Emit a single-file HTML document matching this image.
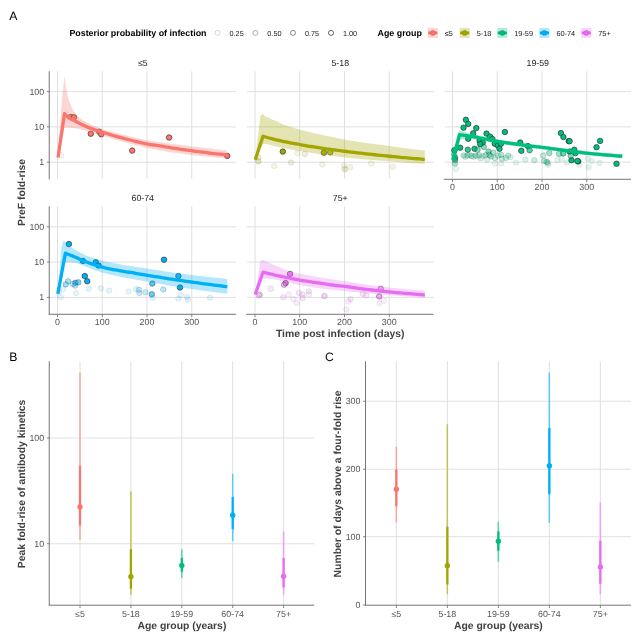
<!DOCTYPE html>
<html><head><meta charset="utf-8"><title>Figure</title>
<style>
html,body{margin:0;padding:0;background:#fff;}
body{width:640px;height:640px;overflow:hidden;font-family:"Liberation Sans",sans-serif;}
svg{display:block;font-family:"Liberation Sans",sans-serif;will-change:transform;text-rendering:geometricPrecision;filter:blur(0.35px);}
</style></head><body>
<svg width="640" height="640" viewBox="0 0 640 640">
<rect x="0" y="0" width="640" height="640" fill="#ffffff"/>
<line x1="57.50" x2="57.50" y1="71.25" y2="178.9" stroke="#dddddd" stroke-width="0.9"/>
<line x1="102.25" x2="102.25" y1="71.25" y2="178.9" stroke="#dddddd" stroke-width="0.9"/>
<line x1="147.00" x2="147.00" y1="71.25" y2="178.9" stroke="#dddddd" stroke-width="0.9"/>
<line x1="191.75" x2="191.75" y1="71.25" y2="178.9" stroke="#dddddd" stroke-width="0.9"/>
<line x1="49.5" x2="236.0" y1="162.20" y2="162.20" stroke="#dddddd" stroke-width="0.9"/>
<line x1="49.5" x2="236.0" y1="126.90" y2="126.90" stroke="#dddddd" stroke-width="0.9"/>
<line x1="49.5" x2="236.0" y1="91.60" y2="91.60" stroke="#dddddd" stroke-width="0.9"/>
<text x="142.75" y="65.95" font-size="8.8" fill="#262626" text-anchor="middle">≤5</text>
<line x1="255.00" x2="255.00" y1="71.25" y2="178.9" stroke="#dddddd" stroke-width="0.9"/>
<line x1="299.75" x2="299.75" y1="71.25" y2="178.9" stroke="#dddddd" stroke-width="0.9"/>
<line x1="344.50" x2="344.50" y1="71.25" y2="178.9" stroke="#dddddd" stroke-width="0.9"/>
<line x1="389.25" x2="389.25" y1="71.25" y2="178.9" stroke="#dddddd" stroke-width="0.9"/>
<line x1="247.0" x2="433.5" y1="162.20" y2="162.20" stroke="#dddddd" stroke-width="0.9"/>
<line x1="247.0" x2="433.5" y1="126.90" y2="126.90" stroke="#dddddd" stroke-width="0.9"/>
<line x1="247.0" x2="433.5" y1="91.60" y2="91.60" stroke="#dddddd" stroke-width="0.9"/>
<text x="340.25" y="65.95" font-size="8.8" fill="#262626" text-anchor="middle">5-18</text>
<line x1="452.50" x2="452.50" y1="71.25" y2="178.9" stroke="#dddddd" stroke-width="0.9"/>
<line x1="497.25" x2="497.25" y1="71.25" y2="178.9" stroke="#dddddd" stroke-width="0.9"/>
<line x1="542.00" x2="542.00" y1="71.25" y2="178.9" stroke="#dddddd" stroke-width="0.9"/>
<line x1="586.75" x2="586.75" y1="71.25" y2="178.9" stroke="#dddddd" stroke-width="0.9"/>
<line x1="444.5" x2="631.0" y1="162.20" y2="162.20" stroke="#dddddd" stroke-width="0.9"/>
<line x1="444.5" x2="631.0" y1="126.90" y2="126.90" stroke="#dddddd" stroke-width="0.9"/>
<line x1="444.5" x2="631.0" y1="91.60" y2="91.60" stroke="#dddddd" stroke-width="0.9"/>
<text x="537.75" y="65.95" font-size="8.8" fill="#262626" text-anchor="middle">19-59</text>
<line x1="57.50" x2="57.50" y1="206.25" y2="313.9" stroke="#dddddd" stroke-width="0.9"/>
<line x1="102.25" x2="102.25" y1="206.25" y2="313.9" stroke="#dddddd" stroke-width="0.9"/>
<line x1="147.00" x2="147.00" y1="206.25" y2="313.9" stroke="#dddddd" stroke-width="0.9"/>
<line x1="191.75" x2="191.75" y1="206.25" y2="313.9" stroke="#dddddd" stroke-width="0.9"/>
<line x1="49.5" x2="236.0" y1="297.40" y2="297.40" stroke="#dddddd" stroke-width="0.9"/>
<line x1="49.5" x2="236.0" y1="262.10" y2="262.10" stroke="#dddddd" stroke-width="0.9"/>
<line x1="49.5" x2="236.0" y1="226.80" y2="226.80" stroke="#dddddd" stroke-width="0.9"/>
<text x="142.75" y="200.95" font-size="8.8" fill="#262626" text-anchor="middle">60-74</text>
<line x1="255.00" x2="255.00" y1="206.25" y2="313.9" stroke="#dddddd" stroke-width="0.9"/>
<line x1="299.75" x2="299.75" y1="206.25" y2="313.9" stroke="#dddddd" stroke-width="0.9"/>
<line x1="344.50" x2="344.50" y1="206.25" y2="313.9" stroke="#dddddd" stroke-width="0.9"/>
<line x1="389.25" x2="389.25" y1="206.25" y2="313.9" stroke="#dddddd" stroke-width="0.9"/>
<line x1="247.0" x2="433.5" y1="297.40" y2="297.40" stroke="#dddddd" stroke-width="0.9"/>
<line x1="247.0" x2="433.5" y1="262.10" y2="262.10" stroke="#dddddd" stroke-width="0.9"/>
<line x1="247.0" x2="433.5" y1="226.80" y2="226.80" stroke="#dddddd" stroke-width="0.9"/>
<text x="340.25" y="200.95" font-size="8.8" fill="#262626" text-anchor="middle">75+</text>
<circle cx="70.75" cy="117.00" r="2.75" fill="#F8766D" fill-opacity="1.00" stroke="#222" stroke-opacity="1.00" stroke-width="0.6"/>
<circle cx="74.00" cy="117.25" r="2.75" fill="#F8766D" fill-opacity="1.00" stroke="#222" stroke-opacity="1.00" stroke-width="0.6"/>
<circle cx="90.75" cy="133.75" r="2.75" fill="#F8766D" fill-opacity="1.00" stroke="#222" stroke-opacity="1.00" stroke-width="0.6"/>
<circle cx="99.25" cy="131.75" r="2.75" fill="#F8766D" fill-opacity="1.00" stroke="#222" stroke-opacity="1.00" stroke-width="0.6"/>
<circle cx="101.25" cy="134.25" r="2.75" fill="#F8766D" fill-opacity="1.00" stroke="#222" stroke-opacity="1.00" stroke-width="0.6"/>
<circle cx="132.20" cy="150.60" r="2.75" fill="#F8766D" fill-opacity="1.00" stroke="#222" stroke-opacity="1.00" stroke-width="0.6"/>
<circle cx="169.10" cy="137.50" r="2.75" fill="#F8766D" fill-opacity="1.00" stroke="#222" stroke-opacity="1.00" stroke-width="0.6"/>
<circle cx="227.25" cy="155.90" r="2.75" fill="#F8766D" fill-opacity="1.00" stroke="#222" stroke-opacity="1.00" stroke-width="0.6"/>
<circle cx="61.00" cy="155.00" r="2.75" fill="#F8766D" fill-opacity="0.12" stroke="#222" stroke-opacity="0.12" stroke-width="0.6"/>
<path d="M58.00 156.50 L60.50 118.00 L62.50 95.00 L64.50 75.80 L66.00 88.00 L68.40 99.00 L72.30 108.60 L76.25 114.90 L84.00 121.00 L91.90 125.00 L102.80 129.20 L120.00 134.00 L147.00 140.20 L170.00 143.60 L191.40 146.20 L210.00 148.60 L227.00 150.60 L227.00 158.60 L210.00 157.00 L191.40 155.00 L170.00 152.20 L147.00 148.00 L120.00 141.00 L102.80 135.80 L92.00 132.80 L84.00 130.20 L76.00 128.20 L70.00 127.80 L64.50 127.40 L61.00 140.00 L58.00 158.50 Z" fill="#F8766D" fill-opacity="0.3"/>
<path d="M58.00 157.50 L64.50 113.75 L64.88 114.10 L65.39 114.59 L65.99 115.17 L66.66 115.80 L67.37 116.46 L68.10 117.10 L68.82 117.69 L69.50 118.20 L70.14 118.62 L70.76 118.97 L71.37 119.29 L72.00 119.59 L72.66 119.89 L73.37 120.21 L74.14 120.58 L75.00 121.00 L75.96 121.50 L77.03 122.06 L78.16 122.65 L79.34 123.28 L80.54 123.90 L81.74 124.51 L82.90 125.08 L84.00 125.60 L85.03 126.07 L86.02 126.50 L86.99 126.90 L87.94 127.29 L88.90 127.66 L89.88 128.03 L90.91 128.41 L92.00 128.80 L93.13 129.19 L94.27 129.57 L95.43 129.95 L96.62 130.33 L97.87 130.72 L99.17 131.12 L100.54 131.55 L102.00 132.00 L103.54 132.49 L105.17 133.00 L106.87 133.54 L108.62 134.09 L110.43 134.65 L112.27 135.21 L114.13 135.76 L116.00 136.30 L117.91 136.83 L119.88 137.37 L121.90 137.91 L123.94 138.45 L125.99 138.98 L128.02 139.50 L130.03 140.01 L132.00 140.50 L133.94 140.98 L135.87 141.46 L137.79 141.93 L139.69 142.39 L141.57 142.84 L143.41 143.25 L145.23 143.64 L147.00 144.00 L148.71 144.31 L150.34 144.57 L151.93 144.80 L153.50 145.01 L155.07 145.21 L156.66 145.42 L158.29 145.64 L160.00 145.90 L161.77 146.19 L163.58 146.49 L165.42 146.80 L167.29 147.12 L169.18 147.45 L171.10 147.78 L173.04 148.09 L175.00 148.40 L176.97 148.70 L178.97 148.99 L180.99 149.28 L183.04 149.56 L185.10 149.85 L187.18 150.13 L189.28 150.41 L191.40 150.70 L193.54 150.99 L195.71 151.28 L197.89 151.58 L200.10 151.88 L202.32 152.17 L204.54 152.45 L206.77 152.73 L209.00 153.00 L211.35 153.27 L213.89 153.55 L216.51 153.83 L219.10 154.09 L221.55 154.34 L223.76 154.57 L225.61 154.76 L227.00 154.90" fill="none" stroke="#F8766D" stroke-width="3.3" stroke-linejoin="round" stroke-linecap="butt"/>
<circle cx="282.80" cy="151.60" r="2.75" fill="#A3A500" fill-opacity="1.00" stroke="#222" stroke-opacity="1.00" stroke-width="0.6"/>
<circle cx="323.90" cy="152.70" r="2.75" fill="#A3A500" fill-opacity="0.90" stroke="#222" stroke-opacity="0.90" stroke-width="0.6"/>
<circle cx="330.20" cy="152.30" r="2.75" fill="#A3A500" fill-opacity="0.75" stroke="#222" stroke-opacity="0.75" stroke-width="0.6"/>
<circle cx="258.30" cy="157.50" r="2.75" fill="#A3A500" fill-opacity="0.17" stroke="#222" stroke-opacity="0.17" stroke-width="0.6"/>
<circle cx="258.30" cy="161.25" r="2.75" fill="#A3A500" fill-opacity="0.25" stroke="#222" stroke-opacity="0.25" stroke-width="0.6"/>
<circle cx="274.20" cy="166.00" r="2.75" fill="#A3A500" fill-opacity="0.12" stroke="#222" stroke-opacity="0.12" stroke-width="0.6"/>
<circle cx="291.00" cy="162.50" r="2.75" fill="#A3A500" fill-opacity="0.17" stroke="#222" stroke-opacity="0.17" stroke-width="0.6"/>
<circle cx="297.30" cy="153.10" r="2.75" fill="#A3A500" fill-opacity="0.12" stroke="#222" stroke-opacity="0.12" stroke-width="0.6"/>
<circle cx="304.80" cy="153.90" r="2.75" fill="#A3A500" fill-opacity="0.17" stroke="#222" stroke-opacity="0.17" stroke-width="0.6"/>
<circle cx="322.30" cy="164.50" r="2.75" fill="#A3A500" fill-opacity="0.12" stroke="#222" stroke-opacity="0.12" stroke-width="0.6"/>
<circle cx="344.20" cy="165.60" r="2.75" fill="#A3A500" fill-opacity="0.12" stroke="#222" stroke-opacity="0.12" stroke-width="0.6"/>
<circle cx="344.50" cy="168.75" r="2.75" fill="#A3A500" fill-opacity="0.12" stroke="#222" stroke-opacity="0.12" stroke-width="0.6"/>
<circle cx="350.20" cy="167.20" r="2.75" fill="#A3A500" fill-opacity="0.12" stroke="#222" stroke-opacity="0.12" stroke-width="0.6"/>
<circle cx="345.20" cy="169.50" r="2.75" fill="#A3A500" fill-opacity="0.12" stroke="#222" stroke-opacity="0.12" stroke-width="0.6"/>
<circle cx="371.25" cy="163.60" r="2.75" fill="#A3A500" fill-opacity="0.12" stroke="#222" stroke-opacity="0.12" stroke-width="0.6"/>
<circle cx="392.80" cy="166.90" r="2.75" fill="#A3A500" fill-opacity="0.12" stroke="#222" stroke-opacity="0.12" stroke-width="0.6"/>
<path d="M255.20 159.30 L258.70 130.00 L260.20 116.40 L262.70 113.75 L265.30 116.40 L269.00 118.00 L273.10 120.00 L277.50 121.50 L282.50 124.20 L291.90 127.30 L299.70 129.70 L315.30 133.60 L331.00 136.70 L345.00 139.80 L366.00 143.00 L389.20 146.10 L407.00 148.40 L424.80 150.50 L424.80 164.00 L407.00 162.70 L389.20 161.25 L366.00 159.40 L345.00 157.50 L323.10 154.70 L307.50 152.30 L291.90 149.70 L276.25 146.40 L265.30 143.75 L263.00 144.20 L259.00 151.00 L255.20 160.50 Z" fill="#A3A500" fill-opacity="0.3"/>
<path d="M255.20 159.80 L263.00 136.25 L263.45 136.38 L264.05 136.56 L264.76 136.78 L265.55 137.01 L266.39 137.26 L267.27 137.52 L268.15 137.77 L269.00 138.00 L269.82 138.22 L270.64 138.43 L271.47 138.64 L272.33 138.86 L273.22 139.08 L274.16 139.31 L275.17 139.55 L276.25 139.80 L277.41 140.07 L278.65 140.36 L279.94 140.66 L281.28 140.97 L282.67 141.28 L284.09 141.59 L285.54 141.90 L287.00 142.20 L288.50 142.49 L290.07 142.79 L291.68 143.08 L293.32 143.38 L294.95 143.66 L296.58 143.95 L298.17 144.23 L299.70 144.50 L301.17 144.77 L302.60 145.02 L304.00 145.28 L305.39 145.52 L306.77 145.77 L308.15 146.01 L309.56 146.26 L311.00 146.50 L312.48 146.74 L313.97 146.99 L315.49 147.23 L317.01 147.48 L318.54 147.71 L320.07 147.95 L321.59 148.18 L323.10 148.40 L324.61 148.62 L326.14 148.83 L327.67 149.04 L329.20 149.24 L330.71 149.44 L332.18 149.63 L333.62 149.82 L335.00 150.00 L336.24 150.16 L337.31 150.31 L338.29 150.44 L339.26 150.57 L340.31 150.70 L341.51 150.85 L342.95 151.03 L344.70 151.25 L346.79 151.51 L349.16 151.80 L351.75 152.12 L354.51 152.45 L357.36 152.79 L360.27 153.14 L363.17 153.48 L366.00 153.80 L368.85 154.12 L371.79 154.44 L374.80 154.76 L377.82 155.08 L380.81 155.39 L383.74 155.70 L386.55 155.98 L389.20 156.25 L391.68 156.50 L394.03 156.72 L396.27 156.93 L398.44 157.13 L400.56 157.33 L402.68 157.52 L404.81 157.71 L407.00 157.90 L409.35 158.10 L411.87 158.32 L414.46 158.54 L417.01 158.75 L419.43 158.95 L421.60 159.13 L423.43 159.29 L424.80 159.40" fill="none" stroke="#A3A500" stroke-width="3.3" stroke-linejoin="round" stroke-linecap="butt"/>
<circle cx="465.90" cy="119.80" r="2.75" fill="#00BF7D" fill-opacity="1.00" stroke="#222" stroke-opacity="1.00" stroke-width="0.6"/>
<circle cx="468.20" cy="123.90" r="2.75" fill="#00BF7D" fill-opacity="1.00" stroke="#222" stroke-opacity="1.00" stroke-width="0.6"/>
<circle cx="463.50" cy="127.70" r="2.75" fill="#00BF7D" fill-opacity="1.00" stroke="#222" stroke-opacity="1.00" stroke-width="0.6"/>
<circle cx="476.30" cy="128.10" r="2.75" fill="#00BF7D" fill-opacity="1.00" stroke="#222" stroke-opacity="1.00" stroke-width="0.6"/>
<circle cx="473.20" cy="133.30" r="2.75" fill="#00BF7D" fill-opacity="1.00" stroke="#222" stroke-opacity="1.00" stroke-width="0.6"/>
<circle cx="468.20" cy="138.75" r="2.75" fill="#00BF7D" fill-opacity="1.00" stroke="#222" stroke-opacity="1.00" stroke-width="0.6"/>
<circle cx="486.50" cy="133.60" r="2.75" fill="#00BF7D" fill-opacity="1.00" stroke="#222" stroke-opacity="1.00" stroke-width="0.6"/>
<circle cx="490.10" cy="136.70" r="2.75" fill="#00BF7D" fill-opacity="1.00" stroke="#222" stroke-opacity="1.00" stroke-width="0.6"/>
<circle cx="492.40" cy="139.00" r="2.75" fill="#00BF7D" fill-opacity="1.00" stroke="#222" stroke-opacity="1.00" stroke-width="0.6"/>
<circle cx="479.60" cy="140.90" r="2.75" fill="#00BF7D" fill-opacity="1.00" stroke="#222" stroke-opacity="1.00" stroke-width="0.6"/>
<circle cx="482.75" cy="142.50" r="2.75" fill="#00BF7D" fill-opacity="1.00" stroke="#222" stroke-opacity="1.00" stroke-width="0.6"/>
<circle cx="480.25" cy="144.20" r="2.75" fill="#00BF7D" fill-opacity="1.00" stroke="#222" stroke-opacity="1.00" stroke-width="0.6"/>
<circle cx="504.90" cy="132.00" r="2.75" fill="#00BF7D" fill-opacity="1.00" stroke="#222" stroke-opacity="1.00" stroke-width="0.6"/>
<circle cx="494.80" cy="143.75" r="2.75" fill="#00BF7D" fill-opacity="1.00" stroke="#222" stroke-opacity="1.00" stroke-width="0.6"/>
<circle cx="497.90" cy="145.60" r="2.75" fill="#00BF7D" fill-opacity="1.00" stroke="#222" stroke-opacity="1.00" stroke-width="0.6"/>
<circle cx="501.00" cy="143.75" r="2.75" fill="#00BF7D" fill-opacity="1.00" stroke="#222" stroke-opacity="1.00" stroke-width="0.6"/>
<circle cx="499.50" cy="148.75" r="2.75" fill="#00BF7D" fill-opacity="1.00" stroke="#222" stroke-opacity="1.00" stroke-width="0.6"/>
<circle cx="460.10" cy="147.70" r="2.75" fill="#00BF7D" fill-opacity="1.00" stroke="#222" stroke-opacity="1.00" stroke-width="0.6"/>
<circle cx="467.75" cy="149.70" r="2.75" fill="#00BF7D" fill-opacity="0.85" stroke="#222" stroke-opacity="0.85" stroke-width="0.6"/>
<circle cx="474.50" cy="148.75" r="2.75" fill="#00BF7D" fill-opacity="0.90" stroke="#222" stroke-opacity="0.90" stroke-width="0.6"/>
<circle cx="520.25" cy="142.50" r="2.75" fill="#00BF7D" fill-opacity="1.00" stroke="#222" stroke-opacity="1.00" stroke-width="0.6"/>
<circle cx="521.30" cy="150.80" r="2.75" fill="#00BF7D" fill-opacity="1.00" stroke="#222" stroke-opacity="1.00" stroke-width="0.6"/>
<circle cx="527.90" cy="146.10" r="2.75" fill="#00BF7D" fill-opacity="1.00" stroke="#222" stroke-opacity="1.00" stroke-width="0.6"/>
<circle cx="529.60" cy="150.30" r="2.75" fill="#00BF7D" fill-opacity="0.70" stroke="#222" stroke-opacity="0.70" stroke-width="0.6"/>
<circle cx="454.60" cy="150.30" r="2.75" fill="#00BF7D" fill-opacity="0.80" stroke="#222" stroke-opacity="0.80" stroke-width="0.6"/>
<circle cx="455.00" cy="158.60" r="2.75" fill="#00BF7D" fill-opacity="0.70" stroke="#222" stroke-opacity="0.70" stroke-width="0.6"/>
<circle cx="483.80" cy="146.90" r="2.75" fill="#00BF7D" fill-opacity="0.50" stroke="#222" stroke-opacity="0.50" stroke-width="0.6"/>
<circle cx="488.50" cy="151.50" r="2.75" fill="#00BF7D" fill-opacity="0.50" stroke="#222" stroke-opacity="0.50" stroke-width="0.6"/>
<circle cx="477.60" cy="149.70" r="2.75" fill="#00BF7D" fill-opacity="0.50" stroke="#222" stroke-opacity="0.50" stroke-width="0.6"/>
<circle cx="560.90" cy="133.10" r="2.75" fill="#00BF7D" fill-opacity="1.00" stroke="#222" stroke-opacity="1.00" stroke-width="0.6"/>
<circle cx="563.40" cy="137.00" r="2.75" fill="#00BF7D" fill-opacity="1.00" stroke="#222" stroke-opacity="1.00" stroke-width="0.6"/>
<circle cx="568.70" cy="141.10" r="2.75" fill="#00BF7D" fill-opacity="1.00" stroke="#222" stroke-opacity="1.00" stroke-width="0.6"/>
<circle cx="569.60" cy="141.20" r="2.75" fill="#00BF7D" fill-opacity="1.00" stroke="#222" stroke-opacity="1.00" stroke-width="0.6"/>
<circle cx="574.30" cy="149.70" r="2.75" fill="#00BF7D" fill-opacity="1.00" stroke="#222" stroke-opacity="1.00" stroke-width="0.6"/>
<circle cx="575.40" cy="153.10" r="2.75" fill="#00BF7D" fill-opacity="1.00" stroke="#222" stroke-opacity="1.00" stroke-width="0.6"/>
<circle cx="569.60" cy="151.60" r="2.75" fill="#00BF7D" fill-opacity="1.00" stroke="#222" stroke-opacity="1.00" stroke-width="0.6"/>
<circle cx="571.50" cy="160.20" r="2.75" fill="#00BF7D" fill-opacity="1.00" stroke="#222" stroke-opacity="1.00" stroke-width="0.6"/>
<circle cx="578.20" cy="161.40" r="2.75" fill="#00BF7D" fill-opacity="1.00" stroke="#222" stroke-opacity="1.00" stroke-width="0.6"/>
<circle cx="577.40" cy="161.00" r="2.75" fill="#00BF7D" fill-opacity="1.00" stroke="#222" stroke-opacity="1.00" stroke-width="0.6"/>
<circle cx="600.10" cy="140.90" r="2.75" fill="#00BF7D" fill-opacity="1.00" stroke="#222" stroke-opacity="1.00" stroke-width="0.6"/>
<circle cx="596.50" cy="147.20" r="2.75" fill="#00BF7D" fill-opacity="1.00" stroke="#222" stroke-opacity="1.00" stroke-width="0.6"/>
<circle cx="616.50" cy="163.75" r="2.75" fill="#00BF7D" fill-opacity="1.00" stroke="#222" stroke-opacity="1.00" stroke-width="0.6"/>
<circle cx="549.30" cy="153.10" r="2.75" fill="#00BF7D" fill-opacity="0.40" stroke="#222" stroke-opacity="0.40" stroke-width="0.6"/>
<circle cx="559.00" cy="153.90" r="2.75" fill="#00BF7D" fill-opacity="0.40" stroke="#222" stroke-opacity="0.40" stroke-width="0.6"/>
<circle cx="563.20" cy="153.40" r="2.75" fill="#00BF7D" fill-opacity="0.60" stroke="#222" stroke-opacity="0.60" stroke-width="0.6"/>
<circle cx="570.70" cy="155.90" r="2.75" fill="#00BF7D" fill-opacity="0.50" stroke="#222" stroke-opacity="0.50" stroke-width="0.6"/>
<circle cx="543.00" cy="155.50" r="2.75" fill="#00BF7D" fill-opacity="0.12" stroke="#222" stroke-opacity="0.12" stroke-width="0.6"/>
<circle cx="544.20" cy="160.90" r="2.75" fill="#00BF7D" fill-opacity="0.12" stroke="#222" stroke-opacity="0.12" stroke-width="0.6"/>
<circle cx="547.30" cy="162.50" r="2.75" fill="#00BF7D" fill-opacity="0.17" stroke="#222" stroke-opacity="0.17" stroke-width="0.6"/>
<circle cx="546.30" cy="161.80" r="2.75" fill="#00BF7D" fill-opacity="0.17" stroke="#222" stroke-opacity="0.17" stroke-width="0.6"/>
<circle cx="548.20" cy="163.20" r="2.75" fill="#00BF7D" fill-opacity="0.12" stroke="#222" stroke-opacity="0.12" stroke-width="0.6"/>
<circle cx="548.00" cy="164.80" r="2.75" fill="#00BF7D" fill-opacity="0.12" stroke="#222" stroke-opacity="0.12" stroke-width="0.6"/>
<circle cx="534.80" cy="160.20" r="2.75" fill="#00BF7D" fill-opacity="0.12" stroke="#222" stroke-opacity="0.12" stroke-width="0.6"/>
<circle cx="557.40" cy="160.20" r="2.75" fill="#00BF7D" fill-opacity="0.12" stroke="#222" stroke-opacity="0.12" stroke-width="0.6"/>
<circle cx="561.80" cy="159.00" r="2.75" fill="#00BF7D" fill-opacity="0.12" stroke="#222" stroke-opacity="0.12" stroke-width="0.6"/>
<circle cx="566.80" cy="162.50" r="2.75" fill="#00BF7D" fill-opacity="0.12" stroke="#222" stroke-opacity="0.12" stroke-width="0.6"/>
<circle cx="579.30" cy="164.80" r="2.75" fill="#00BF7D" fill-opacity="0.12" stroke="#222" stroke-opacity="0.12" stroke-width="0.6"/>
<circle cx="587.90" cy="158.60" r="2.75" fill="#00BF7D" fill-opacity="0.12" stroke="#222" stroke-opacity="0.12" stroke-width="0.6"/>
<circle cx="591.80" cy="160.90" r="2.75" fill="#00BF7D" fill-opacity="0.12" stroke="#222" stroke-opacity="0.12" stroke-width="0.6"/>
<circle cx="588.70" cy="167.20" r="2.75" fill="#00BF7D" fill-opacity="0.12" stroke="#222" stroke-opacity="0.12" stroke-width="0.6"/>
<circle cx="599.60" cy="163.00" r="2.75" fill="#00BF7D" fill-opacity="0.12" stroke="#222" stroke-opacity="0.12" stroke-width="0.6"/>
<circle cx="463.62" cy="155.62" r="2.75" fill="#00BF7D" fill-opacity="0.30" stroke="#222" stroke-opacity="0.30" stroke-width="0.6"/>
<circle cx="467.53" cy="155.62" r="2.75" fill="#00BF7D" fill-opacity="0.30" stroke="#222" stroke-opacity="0.30" stroke-width="0.6"/>
<circle cx="471.44" cy="155.94" r="2.75" fill="#00BF7D" fill-opacity="0.30" stroke="#222" stroke-opacity="0.30" stroke-width="0.6"/>
<circle cx="475.34" cy="155.62" r="2.75" fill="#00BF7D" fill-opacity="0.30" stroke="#222" stroke-opacity="0.30" stroke-width="0.6"/>
<circle cx="479.25" cy="155.16" r="2.75" fill="#00BF7D" fill-opacity="0.30" stroke="#222" stroke-opacity="0.30" stroke-width="0.6"/>
<circle cx="485.50" cy="155.31" r="2.75" fill="#00BF7D" fill-opacity="0.35" stroke="#222" stroke-opacity="0.35" stroke-width="0.6"/>
<circle cx="489.41" cy="154.84" r="2.75" fill="#00BF7D" fill-opacity="0.40" stroke="#222" stroke-opacity="0.40" stroke-width="0.6"/>
<circle cx="493.31" cy="152.50" r="2.75" fill="#00BF7D" fill-opacity="0.35" stroke="#222" stroke-opacity="0.35" stroke-width="0.6"/>
<circle cx="465.50" cy="156.88" r="2.75" fill="#00BF7D" fill-opacity="0.17" stroke="#222" stroke-opacity="0.17" stroke-width="0.6"/>
<circle cx="469.56" cy="154.84" r="2.75" fill="#00BF7D" fill-opacity="0.17" stroke="#222" stroke-opacity="0.17" stroke-width="0.6"/>
<circle cx="473.47" cy="156.88" r="2.75" fill="#00BF7D" fill-opacity="0.17" stroke="#222" stroke-opacity="0.17" stroke-width="0.6"/>
<circle cx="477.38" cy="156.56" r="2.75" fill="#00BF7D" fill-opacity="0.17" stroke="#222" stroke-opacity="0.17" stroke-width="0.6"/>
<circle cx="482.69" cy="156.25" r="2.75" fill="#00BF7D" fill-opacity="0.17" stroke="#222" stroke-opacity="0.17" stroke-width="0.6"/>
<circle cx="480.81" cy="158.44" r="2.75" fill="#00BF7D" fill-opacity="0.17" stroke="#222" stroke-opacity="0.17" stroke-width="0.6"/>
<circle cx="487.06" cy="159.53" r="2.75" fill="#00BF7D" fill-opacity="0.17" stroke="#222" stroke-opacity="0.17" stroke-width="0.6"/>
<circle cx="490.97" cy="156.41" r="2.75" fill="#00BF7D" fill-opacity="0.30" stroke="#222" stroke-opacity="0.30" stroke-width="0.6"/>
<circle cx="494.88" cy="157.97" r="2.75" fill="#00BF7D" fill-opacity="0.25" stroke="#222" stroke-opacity="0.25" stroke-width="0.6"/>
<circle cx="498.00" cy="155.62" r="2.75" fill="#00BF7D" fill-opacity="0.25" stroke="#222" stroke-opacity="0.25" stroke-width="0.6"/>
<circle cx="501.12" cy="154.84" r="2.75" fill="#00BF7D" fill-opacity="0.30" stroke="#222" stroke-opacity="0.30" stroke-width="0.6"/>
<circle cx="501.91" cy="158.75" r="2.75" fill="#00BF7D" fill-opacity="0.25" stroke="#222" stroke-opacity="0.25" stroke-width="0.6"/>
<circle cx="505.81" cy="157.97" r="2.75" fill="#00BF7D" fill-opacity="0.25" stroke="#222" stroke-opacity="0.25" stroke-width="0.6"/>
<circle cx="508.16" cy="155.62" r="2.75" fill="#00BF7D" fill-opacity="0.25" stroke="#222" stroke-opacity="0.25" stroke-width="0.6"/>
<circle cx="510.50" cy="157.19" r="2.75" fill="#00BF7D" fill-opacity="0.17" stroke="#222" stroke-opacity="0.17" stroke-width="0.6"/>
<circle cx="494.88" cy="163.44" r="2.75" fill="#00BF7D" fill-opacity="0.12" stroke="#222" stroke-opacity="0.12" stroke-width="0.6"/>
<circle cx="501.12" cy="163.44" r="2.75" fill="#00BF7D" fill-opacity="0.12" stroke="#222" stroke-opacity="0.12" stroke-width="0.6"/>
<circle cx="515.97" cy="162.66" r="2.75" fill="#00BF7D" fill-opacity="0.12" stroke="#222" stroke-opacity="0.12" stroke-width="0.6"/>
<circle cx="525.34" cy="159.53" r="2.75" fill="#00BF7D" fill-opacity="0.17" stroke="#222" stroke-opacity="0.17" stroke-width="0.6"/>
<circle cx="533.94" cy="160.31" r="2.75" fill="#00BF7D" fill-opacity="0.12" stroke="#222" stroke-opacity="0.12" stroke-width="0.6"/>
<circle cx="543.31" cy="155.62" r="2.75" fill="#00BF7D" fill-opacity="0.17" stroke="#222" stroke-opacity="0.17" stroke-width="0.6"/>
<circle cx="544.09" cy="161.09" r="2.75" fill="#00BF7D" fill-opacity="0.17" stroke="#222" stroke-opacity="0.17" stroke-width="0.6"/>
<circle cx="547.22" cy="161.88" r="2.75" fill="#00BF7D" fill-opacity="0.17" stroke="#222" stroke-opacity="0.17" stroke-width="0.6"/>
<circle cx="454.25" cy="150.16" r="2.75" fill="#00BF7D" fill-opacity="0.60" stroke="#222" stroke-opacity="0.60" stroke-width="0.6"/>
<circle cx="455.03" cy="157.19" r="2.75" fill="#00BF7D" fill-opacity="0.50" stroke="#222" stroke-opacity="0.50" stroke-width="0.6"/>
<circle cx="455.03" cy="160.31" r="2.75" fill="#00BF7D" fill-opacity="0.45" stroke="#222" stroke-opacity="0.45" stroke-width="0.6"/>
<circle cx="455.03" cy="163.44" r="2.75" fill="#00BF7D" fill-opacity="0.35" stroke="#222" stroke-opacity="0.35" stroke-width="0.6"/>
<circle cx="455.81" cy="168.91" r="2.75" fill="#00BF7D" fill-opacity="0.12" stroke="#222" stroke-opacity="0.12" stroke-width="0.6"/>
<circle cx="453.94" cy="154.38" r="2.75" fill="#00BF7D" fill-opacity="0.40" stroke="#222" stroke-opacity="0.40" stroke-width="0.6"/>
<path d="M452.60 158.50 L457.00 136.00 L459.60 130.40 L463.00 131.60 L467.00 133.00 L475.25 134.80 L497.10 139.30 L519.00 142.60 L544.00 145.70 L586.30 151.20 L622.30 154.30 L622.30 158.20 L586.30 155.10 L544.00 149.60 L519.00 146.60 L497.10 143.60 L475.25 139.40 L467.00 138.40 L460.50 139.60 L457.50 150.00 L452.60 161.50 Z" fill="#00BF7D" fill-opacity="0.35"/>
<path d="M452.60 160.00 L459.60 134.70 L460.17 134.78 L460.91 134.90 L461.80 135.03 L462.78 135.18 L463.84 135.33 L464.92 135.49 L465.98 135.65 L467.00 135.80 L467.97 135.94 L468.94 136.07 L469.92 136.20 L470.92 136.33 L471.94 136.47 L472.99 136.63 L474.09 136.80 L475.25 137.00 L476.47 137.23 L477.75 137.48 L479.08 137.75 L480.45 138.04 L481.83 138.33 L483.23 138.63 L484.62 138.92 L486.00 139.20 L487.37 139.48 L488.76 139.76 L490.15 140.05 L491.54 140.34 L492.94 140.62 L494.33 140.89 L495.72 141.15 L497.10 141.40 L498.47 141.63 L499.84 141.84 L501.20 142.05 L502.56 142.24 L503.91 142.43 L505.27 142.62 L506.63 142.81 L508.00 143.00 L509.36 143.19 L510.72 143.38 L512.07 143.57 L513.43 143.75 L514.80 143.93 L516.18 144.12 L517.58 144.31 L519.00 144.50 L520.45 144.70 L521.91 144.90 L523.38 145.10 L524.88 145.30 L526.38 145.50 L527.91 145.70 L529.45 145.90 L531.00 146.10 L532.52 146.28 L533.99 146.45 L535.45 146.61 L536.94 146.78 L538.50 146.95 L540.16 147.14 L541.99 147.35 L544.00 147.60 L546.24 147.89 L548.68 148.21 L551.28 148.56 L553.98 148.93 L556.75 149.30 L559.54 149.68 L562.31 150.05 L565.00 150.40 L567.67 150.75 L570.39 151.11 L573.12 151.46 L575.86 151.82 L578.56 152.17 L581.22 152.50 L583.81 152.81 L586.30 153.10 L588.68 153.36 L590.96 153.60 L593.17 153.82 L595.34 154.03 L597.48 154.22 L599.62 154.42 L601.78 154.61 L604.00 154.80 L606.38 155.00 L608.96 155.21 L611.62 155.43 L614.26 155.63 L616.75 155.82 L619.00 156.00 L620.88 156.14 L622.30 156.25" fill="none" stroke="#00BF7D" stroke-width="3.3" stroke-linejoin="round" stroke-linecap="butt"/>
<circle cx="68.90" cy="244.10" r="2.75" fill="#00B0F6" fill-opacity="1.00" stroke="#222" stroke-opacity="1.00" stroke-width="0.6"/>
<circle cx="82.90" cy="260.90" r="2.75" fill="#00B0F6" fill-opacity="1.00" stroke="#222" stroke-opacity="1.00" stroke-width="0.6"/>
<circle cx="95.75" cy="262.20" r="2.75" fill="#00B0F6" fill-opacity="1.00" stroke="#222" stroke-opacity="1.00" stroke-width="0.6"/>
<circle cx="98.60" cy="265.60" r="2.75" fill="#00B0F6" fill-opacity="1.00" stroke="#222" stroke-opacity="1.00" stroke-width="0.6"/>
<circle cx="84.80" cy="276.10" r="2.75" fill="#00B0F6" fill-opacity="1.00" stroke="#222" stroke-opacity="1.00" stroke-width="0.6"/>
<circle cx="87.20" cy="281.25" r="2.75" fill="#00B0F6" fill-opacity="1.00" stroke="#222" stroke-opacity="1.00" stroke-width="0.6"/>
<circle cx="68.10" cy="281.25" r="2.75" fill="#00B0F6" fill-opacity="0.35" stroke="#222" stroke-opacity="0.35" stroke-width="0.6"/>
<circle cx="65.75" cy="284.40" r="2.75" fill="#00B0F6" fill-opacity="0.40" stroke="#222" stroke-opacity="0.40" stroke-width="0.6"/>
<circle cx="75.40" cy="282.80" r="2.75" fill="#00B0F6" fill-opacity="0.60" stroke="#222" stroke-opacity="0.60" stroke-width="0.6"/>
<circle cx="78.25" cy="282.30" r="2.75" fill="#00B0F6" fill-opacity="0.50" stroke="#222" stroke-opacity="0.50" stroke-width="0.6"/>
<circle cx="72.80" cy="284.00" r="2.75" fill="#00B0F6" fill-opacity="0.30" stroke="#222" stroke-opacity="0.30" stroke-width="0.6"/>
<circle cx="75.10" cy="285.60" r="2.75" fill="#00B0F6" fill-opacity="0.30" stroke="#222" stroke-opacity="0.30" stroke-width="0.6"/>
<circle cx="63.40" cy="289.00" r="2.75" fill="#00B0F6" fill-opacity="0.12" stroke="#222" stroke-opacity="0.12" stroke-width="0.6"/>
<circle cx="58.70" cy="292.20" r="2.75" fill="#00B0F6" fill-opacity="0.12" stroke="#222" stroke-opacity="0.12" stroke-width="0.6"/>
<circle cx="60.60" cy="297.20" r="2.75" fill="#00B0F6" fill-opacity="0.12" stroke="#222" stroke-opacity="0.12" stroke-width="0.6"/>
<circle cx="75.90" cy="293.00" r="2.75" fill="#00B0F6" fill-opacity="0.12" stroke="#222" stroke-opacity="0.12" stroke-width="0.6"/>
<circle cx="88.90" cy="288.75" r="2.75" fill="#00B0F6" fill-opacity="0.12" stroke="#222" stroke-opacity="0.12" stroke-width="0.6"/>
<circle cx="100.90" cy="288.30" r="2.75" fill="#00B0F6" fill-opacity="0.12" stroke="#222" stroke-opacity="0.12" stroke-width="0.6"/>
<circle cx="109.20" cy="290.60" r="2.75" fill="#00B0F6" fill-opacity="0.12" stroke="#222" stroke-opacity="0.12" stroke-width="0.6"/>
<circle cx="128.60" cy="291.40" r="2.75" fill="#00B0F6" fill-opacity="0.12" stroke="#222" stroke-opacity="0.12" stroke-width="0.6"/>
<circle cx="135.75" cy="289.00" r="2.75" fill="#00B0F6" fill-opacity="0.12" stroke="#222" stroke-opacity="0.12" stroke-width="0.6"/>
<circle cx="139.20" cy="289.80" r="2.75" fill="#00B0F6" fill-opacity="0.17" stroke="#222" stroke-opacity="0.17" stroke-width="0.6"/>
<circle cx="139.20" cy="293.00" r="2.75" fill="#00B0F6" fill-opacity="0.12" stroke="#222" stroke-opacity="0.12" stroke-width="0.6"/>
<circle cx="145.40" cy="292.20" r="2.75" fill="#00B0F6" fill-opacity="0.12" stroke="#222" stroke-opacity="0.12" stroke-width="0.6"/>
<circle cx="164.00" cy="259.70" r="2.75" fill="#00B0F6" fill-opacity="1.00" stroke="#222" stroke-opacity="1.00" stroke-width="0.6"/>
<circle cx="178.40" cy="276.10" r="2.75" fill="#00B0F6" fill-opacity="0.90" stroke="#222" stroke-opacity="0.90" stroke-width="0.6"/>
<circle cx="180.00" cy="287.50" r="2.75" fill="#00B0F6" fill-opacity="1.00" stroke="#222" stroke-opacity="1.00" stroke-width="0.6"/>
<circle cx="152.30" cy="283.60" r="2.75" fill="#00B0F6" fill-opacity="0.70" stroke="#222" stroke-opacity="0.70" stroke-width="0.6"/>
<circle cx="151.80" cy="294.20" r="2.75" fill="#00B0F6" fill-opacity="0.60" stroke="#222" stroke-opacity="0.60" stroke-width="0.6"/>
<circle cx="163.25" cy="289.50" r="2.75" fill="#00B0F6" fill-opacity="0.30" stroke="#222" stroke-opacity="0.30" stroke-width="0.6"/>
<circle cx="138.50" cy="289.80" r="2.75" fill="#00B0F6" fill-opacity="0.12" stroke="#222" stroke-opacity="0.12" stroke-width="0.6"/>
<circle cx="139.50" cy="293.00" r="2.75" fill="#00B0F6" fill-opacity="0.12" stroke="#222" stroke-opacity="0.12" stroke-width="0.6"/>
<circle cx="145.60" cy="292.20" r="2.75" fill="#00B0F6" fill-opacity="0.12" stroke="#222" stroke-opacity="0.12" stroke-width="0.6"/>
<circle cx="152.60" cy="297.70" r="2.75" fill="#00B0F6" fill-opacity="0.12" stroke="#222" stroke-opacity="0.12" stroke-width="0.6"/>
<circle cx="180.75" cy="295.30" r="2.75" fill="#00B0F6" fill-opacity="0.12" stroke="#222" stroke-opacity="0.12" stroke-width="0.6"/>
<circle cx="178.40" cy="298.75" r="2.75" fill="#00B0F6" fill-opacity="0.12" stroke="#222" stroke-opacity="0.12" stroke-width="0.6"/>
<circle cx="187.00" cy="296.90" r="2.75" fill="#00B0F6" fill-opacity="0.12" stroke="#222" stroke-opacity="0.12" stroke-width="0.6"/>
<circle cx="187.80" cy="299.70" r="2.75" fill="#00B0F6" fill-opacity="0.12" stroke="#222" stroke-opacity="0.12" stroke-width="0.6"/>
<circle cx="210.10" cy="297.70" r="2.75" fill="#00B0F6" fill-opacity="0.12" stroke="#222" stroke-opacity="0.12" stroke-width="0.6"/>
<path d="M57.90 293.00 L60.80 256.00 L61.40 248.40 L63.50 240.60 L66.00 242.50 L68.90 245.60 L75.10 250.00 L86.00 255.50 L102.50 261.00 L122.00 264.80 L147.00 268.60 L169.00 272.00 L191.40 275.00 L209.00 277.00 L227.30 278.90 L227.30 293.75 L209.00 291.50 L191.40 289.00 L169.00 285.60 L147.00 281.60 L122.00 277.30 L102.50 272.70 L92.00 269.00 L82.90 265.60 L76.00 263.00 L70.40 262.20 L64.50 262.60 L61.50 272.00 L57.90 294.50 Z" fill="#00B0F6" fill-opacity="0.3"/>
<path d="M57.90 293.75 L65.40 253.10 L65.75 253.25 L66.21 253.44 L66.77 253.67 L67.38 253.92 L68.04 254.20 L68.71 254.47 L69.37 254.74 L70.00 255.00 L70.60 255.23 L71.18 255.46 L71.76 255.67 L72.35 255.89 L72.97 256.13 L73.62 256.39 L74.33 256.67 L75.10 257.00 L75.94 257.37 L76.83 257.79 L77.77 258.24 L78.75 258.71 L79.76 259.19 L80.80 259.68 L81.84 260.15 L82.90 260.60 L83.97 261.04 L85.05 261.47 L86.16 261.90 L87.28 262.33 L88.43 262.75 L89.60 263.17 L90.79 263.59 L92.00 264.00 L93.25 264.42 L94.55 264.84 L95.88 265.26 L97.22 265.68 L98.57 266.09 L99.91 266.48 L101.23 266.85 L102.50 267.20 L103.73 267.52 L104.93 267.81 L106.11 268.08 L107.28 268.34 L108.44 268.58 L109.61 268.82 L110.80 269.06 L112.00 269.30 L113.21 269.54 L114.42 269.77 L115.63 269.99 L116.84 270.21 L118.08 270.43 L119.35 270.65 L120.65 270.87 L122.00 271.10 L123.40 271.33 L124.83 271.56 L126.30 271.79 L127.80 272.02 L129.32 272.25 L130.87 272.49 L132.43 272.74 L134.00 273.00 L135.53 273.26 L137.01 273.52 L138.48 273.78 L139.99 274.05 L141.57 274.33 L143.27 274.63 L145.13 274.95 L147.20 275.30 L149.51 275.68 L152.03 276.10 L154.72 276.54 L157.52 276.99 L160.40 277.46 L163.31 277.92 L166.19 278.37 L169.00 278.80 L171.80 279.22 L174.67 279.64 L177.57 280.06 L180.46 280.47 L183.33 280.87 L186.12 281.26 L188.83 281.64 L191.40 282.00 L193.82 282.34 L196.12 282.66 L198.32 282.96 L200.46 283.26 L202.56 283.54 L204.66 283.83 L206.80 284.11 L209.00 284.40 L211.38 284.71 L213.95 285.04 L216.62 285.37 L219.25 285.70 L221.75 286.01 L224.00 286.29 L225.88 286.52 L227.30 286.70" fill="none" stroke="#00B0F6" stroke-width="3.3" stroke-linejoin="round" stroke-linecap="butt"/>
<circle cx="290.00" cy="273.90" r="2.75" fill="#E76BF3" fill-opacity="0.90" stroke="#222" stroke-opacity="0.90" stroke-width="0.6"/>
<circle cx="285.60" cy="283.10" r="2.75" fill="#E76BF3" fill-opacity="0.90" stroke="#222" stroke-opacity="0.90" stroke-width="0.6"/>
<circle cx="284.00" cy="284.70" r="2.75" fill="#E76BF3" fill-opacity="0.50" stroke="#222" stroke-opacity="0.50" stroke-width="0.6"/>
<circle cx="270.80" cy="288.75" r="2.75" fill="#E76BF3" fill-opacity="0.17" stroke="#222" stroke-opacity="0.17" stroke-width="0.6"/>
<circle cx="259.80" cy="294.50" r="2.75" fill="#E76BF3" fill-opacity="0.30" stroke="#222" stroke-opacity="0.30" stroke-width="0.6"/>
<circle cx="258.75" cy="295.30" r="2.75" fill="#E76BF3" fill-opacity="0.25" stroke="#222" stroke-opacity="0.25" stroke-width="0.6"/>
<circle cx="283.30" cy="297.20" r="2.75" fill="#E76BF3" fill-opacity="0.17" stroke="#222" stroke-opacity="0.17" stroke-width="0.6"/>
<circle cx="288.75" cy="294.50" r="2.75" fill="#E76BF3" fill-opacity="0.12" stroke="#222" stroke-opacity="0.12" stroke-width="0.6"/>
<circle cx="293.40" cy="299.20" r="2.75" fill="#E76BF3" fill-opacity="0.12" stroke="#222" stroke-opacity="0.12" stroke-width="0.6"/>
<circle cx="298.90" cy="293.00" r="2.75" fill="#E76BF3" fill-opacity="0.17" stroke="#222" stroke-opacity="0.17" stroke-width="0.6"/>
<circle cx="302.50" cy="294.50" r="2.75" fill="#E76BF3" fill-opacity="0.17" stroke="#222" stroke-opacity="0.17" stroke-width="0.6"/>
<circle cx="302.80" cy="298.10" r="2.75" fill="#E76BF3" fill-opacity="0.17" stroke="#222" stroke-opacity="0.17" stroke-width="0.6"/>
<circle cx="308.75" cy="291.40" r="2.75" fill="#E76BF3" fill-opacity="0.17" stroke="#222" stroke-opacity="0.17" stroke-width="0.6"/>
<circle cx="309.00" cy="294.50" r="2.75" fill="#E76BF3" fill-opacity="0.12" stroke="#222" stroke-opacity="0.12" stroke-width="0.6"/>
<circle cx="324.40" cy="296.10" r="2.75" fill="#E76BF3" fill-opacity="0.30" stroke="#222" stroke-opacity="0.30" stroke-width="0.6"/>
<circle cx="296.60" cy="303.00" r="2.75" fill="#E76BF3" fill-opacity="0.12" stroke="#222" stroke-opacity="0.12" stroke-width="0.6"/>
<circle cx="380.80" cy="288.75" r="2.75" fill="#E76BF3" fill-opacity="0.60" stroke="#222" stroke-opacity="0.60" stroke-width="0.6"/>
<circle cx="379.20" cy="296.40" r="2.75" fill="#E76BF3" fill-opacity="0.60" stroke="#222" stroke-opacity="0.60" stroke-width="0.6"/>
<circle cx="362.80" cy="293.75" r="2.75" fill="#E76BF3" fill-opacity="0.17" stroke="#222" stroke-opacity="0.17" stroke-width="0.6"/>
<circle cx="366.25" cy="295.60" r="2.75" fill="#E76BF3" fill-opacity="0.17" stroke="#222" stroke-opacity="0.17" stroke-width="0.6"/>
<circle cx="350.60" cy="299.20" r="2.75" fill="#E76BF3" fill-opacity="0.17" stroke="#222" stroke-opacity="0.17" stroke-width="0.6"/>
<circle cx="348.30" cy="301.60" r="2.75" fill="#E76BF3" fill-opacity="0.12" stroke="#222" stroke-opacity="0.12" stroke-width="0.6"/>
<circle cx="383.75" cy="300.80" r="2.75" fill="#E76BF3" fill-opacity="0.12" stroke="#222" stroke-opacity="0.12" stroke-width="0.6"/>
<circle cx="379.50" cy="303.10" r="2.75" fill="#E76BF3" fill-opacity="0.12" stroke="#222" stroke-opacity="0.12" stroke-width="0.6"/>
<circle cx="346.25" cy="309.50" r="2.75" fill="#E76BF3" fill-opacity="0.12" stroke="#222" stroke-opacity="0.12" stroke-width="0.6"/>
<path d="M255.20 294.00 L258.70 272.00 L260.00 262.00 L262.20 259.70 L265.00 260.80 L268.40 262.50 L276.25 266.00 L288.75 271.00 L299.40 273.75 L323.10 278.10 L345.00 281.30 L366.00 284.60 L389.20 287.50 L407.00 289.20 L424.80 290.60 L424.80 297.70 L407.00 296.50 L389.20 295.00 L366.00 293.20 L345.00 291.20 L323.10 288.75 L299.40 285.20 L288.00 282.60 L276.25 279.70 L268.00 278.60 L262.20 279.00 L259.00 286.00 L255.20 295.20 Z" fill="#E76BF3" fill-opacity="0.28"/>
<path d="M255.20 294.50 L263.00 272.20 L263.45 272.31 L264.05 272.44 L264.76 272.61 L265.55 272.79 L266.39 272.99 L267.27 273.20 L268.15 273.40 L269.00 273.60 L269.82 273.79 L270.64 273.99 L271.47 274.19 L272.33 274.39 L273.22 274.61 L274.16 274.83 L275.17 275.06 L276.25 275.30 L277.41 275.56 L278.65 275.83 L279.95 276.11 L281.30 276.41 L282.69 276.70 L284.11 277.00 L285.55 277.30 L287.00 277.60 L288.48 277.90 L290.00 278.20 L291.56 278.51 L293.15 278.83 L294.74 279.13 L296.32 279.43 L297.88 279.72 L299.40 280.00 L300.88 280.26 L302.34 280.51 L303.79 280.76 L305.22 280.99 L306.65 281.22 L308.08 281.45 L309.53 281.68 L311.00 281.90 L312.49 282.12 L313.99 282.34 L315.51 282.55 L317.03 282.76 L318.56 282.96 L320.08 283.17 L321.59 283.38 L323.10 283.60 L324.61 283.83 L326.14 284.06 L327.67 284.30 L329.20 284.54 L330.71 284.78 L332.18 285.00 L333.62 285.21 L335.00 285.40 L336.24 285.55 L337.31 285.66 L338.29 285.75 L339.26 285.83 L340.31 285.92 L341.51 286.04 L342.95 286.19 L344.70 286.40 L346.79 286.67 L349.16 287.00 L351.75 287.36 L354.51 287.75 L357.36 288.15 L360.27 288.55 L363.17 288.94 L366.00 289.30 L368.85 289.65 L371.79 289.99 L374.80 290.34 L377.82 290.68 L380.81 291.01 L383.74 291.33 L386.55 291.62 L389.20 291.90 L391.68 292.15 L394.03 292.37 L396.27 292.58 L398.44 292.77 L400.56 292.95 L402.68 293.13 L404.81 293.31 L407.00 293.50 L409.35 293.70 L411.87 293.92 L414.46 294.14 L417.01 294.35 L419.43 294.55 L421.60 294.73 L423.43 294.88 L424.80 295.00" fill="none" stroke="#E76BF3" stroke-width="3.3" stroke-linejoin="round" stroke-linecap="butt"/>
<line x1="49.25" x2="49.25" y1="71.25" y2="179.4" stroke="#757575" stroke-width="1"/>
<line x1="46.9" x2="49.25" y1="162.20" y2="162.20" stroke="#757575" stroke-width="0.9"/>
<text x="44.20" y="165.20" font-size="8.9" fill="#555555" text-anchor="end">1</text>
<line x1="46.9" x2="49.25" y1="126.90" y2="126.90" stroke="#757575" stroke-width="0.9"/>
<text x="44.20" y="129.90" font-size="8.9" fill="#555555" text-anchor="end">10</text>
<line x1="46.9" x2="49.25" y1="91.60" y2="91.60" stroke="#757575" stroke-width="0.9"/>
<text x="44.20" y="94.60" font-size="8.9" fill="#555555" text-anchor="end">100</text>
<line x1="443.75" x2="631.0" y1="179.3" y2="179.3" stroke="#757575" stroke-width="1"/>
<line x1="452.50" x2="452.50" y1="179.3" y2="182.1" stroke="#757575" stroke-width="0.9"/>
<text x="452.50" y="190.10" font-size="8.9" fill="#555555" text-anchor="middle">0</text>
<line x1="497.25" x2="497.25" y1="179.3" y2="182.1" stroke="#757575" stroke-width="0.9"/>
<text x="497.25" y="190.10" font-size="8.9" fill="#555555" text-anchor="middle">100</text>
<line x1="542.00" x2="542.00" y1="179.3" y2="182.1" stroke="#757575" stroke-width="0.9"/>
<text x="542.00" y="190.10" font-size="8.9" fill="#555555" text-anchor="middle">200</text>
<line x1="586.75" x2="586.75" y1="179.3" y2="182.1" stroke="#757575" stroke-width="0.9"/>
<text x="586.75" y="190.10" font-size="8.9" fill="#555555" text-anchor="middle">300</text>
<line x1="49.25" x2="49.25" y1="206.25" y2="314.4" stroke="#757575" stroke-width="1"/>
<line x1="46.9" x2="49.25" y1="297.40" y2="297.40" stroke="#757575" stroke-width="0.9"/>
<text x="44.20" y="300.40" font-size="8.9" fill="#555555" text-anchor="end">1</text>
<line x1="46.9" x2="49.25" y1="262.10" y2="262.10" stroke="#757575" stroke-width="0.9"/>
<text x="44.20" y="265.10" font-size="8.9" fill="#555555" text-anchor="end">10</text>
<line x1="46.9" x2="49.25" y1="226.80" y2="226.80" stroke="#757575" stroke-width="0.9"/>
<text x="44.20" y="229.80" font-size="8.9" fill="#555555" text-anchor="end">100</text>
<line x1="48.75" x2="236.0" y1="314.29999999999995" y2="314.29999999999995" stroke="#757575" stroke-width="1"/>
<line x1="57.50" x2="57.50" y1="314.29999999999995" y2="317.09999999999997" stroke="#757575" stroke-width="0.9"/>
<text x="57.50" y="325.10" font-size="8.9" fill="#555555" text-anchor="middle">0</text>
<line x1="102.25" x2="102.25" y1="314.29999999999995" y2="317.09999999999997" stroke="#757575" stroke-width="0.9"/>
<text x="102.25" y="325.10" font-size="8.9" fill="#555555" text-anchor="middle">100</text>
<line x1="147.00" x2="147.00" y1="314.29999999999995" y2="317.09999999999997" stroke="#757575" stroke-width="0.9"/>
<text x="147.00" y="325.10" font-size="8.9" fill="#555555" text-anchor="middle">200</text>
<line x1="191.75" x2="191.75" y1="314.29999999999995" y2="317.09999999999997" stroke="#757575" stroke-width="0.9"/>
<text x="191.75" y="325.10" font-size="8.9" fill="#555555" text-anchor="middle">300</text>
<line x1="246.25" x2="433.5" y1="314.29999999999995" y2="314.29999999999995" stroke="#757575" stroke-width="1"/>
<line x1="255.00" x2="255.00" y1="314.29999999999995" y2="317.09999999999997" stroke="#757575" stroke-width="0.9"/>
<text x="255.00" y="325.10" font-size="8.9" fill="#555555" text-anchor="middle">0</text>
<line x1="299.75" x2="299.75" y1="314.29999999999995" y2="317.09999999999997" stroke="#757575" stroke-width="0.9"/>
<text x="299.75" y="325.10" font-size="8.9" fill="#555555" text-anchor="middle">100</text>
<line x1="344.50" x2="344.50" y1="314.29999999999995" y2="317.09999999999997" stroke="#757575" stroke-width="0.9"/>
<text x="344.50" y="325.10" font-size="8.9" fill="#555555" text-anchor="middle">200</text>
<line x1="389.25" x2="389.25" y1="314.29999999999995" y2="317.09999999999997" stroke="#757575" stroke-width="0.9"/>
<text x="389.25" y="325.10" font-size="8.9" fill="#555555" text-anchor="middle">300</text>
<text transform="translate(25.2,192.4) rotate(-90)" font-size="10.4" font-weight="bold" fill="#404040" text-anchor="middle">PreF fold-rise</text>
<text x="340.2" y="337.4" font-size="10.4" font-weight="bold" fill="#404040" text-anchor="middle">Time post infection (days)</text>
<text x="9.3" y="20.3" font-size="12.2" fill="#000">A</text>
<text x="9.3" y="361.0" font-size="12.2" fill="#000">B</text>
<text x="325.0" y="361.0" font-size="12.2" fill="#000">C</text>
<text x="69.4" y="36.2" font-size="8.9" font-weight="bold" fill="#000">Posterior probability of infection</text>
<circle cx="217.6" cy="32.9" r="2.5" fill="#fff" stroke="#222" stroke-opacity="0.25" stroke-width="0.7"/>
<text x="229.5" y="35.6" font-size="7.3" fill="#1a1a1a">0.25</text>
<circle cx="255.4" cy="32.9" r="2.5" fill="#fff" stroke="#222" stroke-opacity="0.5" stroke-width="0.7"/>
<text x="267.3" y="35.6" font-size="7.3" fill="#1a1a1a">0.50</text>
<circle cx="293.0" cy="32.9" r="2.5" fill="#fff" stroke="#222" stroke-opacity="0.75" stroke-width="0.7"/>
<text x="304.9" y="35.6" font-size="7.3" fill="#1a1a1a">0.75</text>
<circle cx="331.0" cy="32.9" r="2.5" fill="#fff" stroke="#222" stroke-opacity="1.0" stroke-width="0.7"/>
<text x="342.9" y="35.6" font-size="7.3" fill="#1a1a1a">1.00</text>
<text x="377.5" y="36.2" font-size="8.9" font-weight="bold" fill="#000">Age group</text>
<rect x="427.8" y="27.9" width="10.0" height="10.0" fill="#F8766D" fill-opacity="0.3"/>
<line x1="428.2" x2="437.40000000000003" y1="32.9" y2="32.9" stroke="#F8766D" stroke-width="2.8"/>
<circle cx="432.8" cy="32.9" r="2.6" fill="#F8766D" stroke="#222" stroke-width="0.4" stroke-opacity="0.35"/>
<text x="444.8" y="35.6" font-size="7.3" fill="#1a1a1a">≤5</text>
<rect x="459.7" y="27.9" width="10.0" height="10.0" fill="#A3A500" fill-opacity="0.3"/>
<line x1="460.09999999999997" x2="469.3" y1="32.9" y2="32.9" stroke="#A3A500" stroke-width="2.8"/>
<circle cx="464.7" cy="32.9" r="2.6" fill="#A3A500" stroke="#222" stroke-width="0.4" stroke-opacity="0.35"/>
<text x="476.7" y="35.6" font-size="7.3" fill="#1a1a1a">5-18</text>
<rect x="497.3" y="27.9" width="10.0" height="10.0" fill="#00BF7D" fill-opacity="0.3"/>
<line x1="497.7" x2="506.90000000000003" y1="32.9" y2="32.9" stroke="#00BF7D" stroke-width="2.8"/>
<circle cx="502.3" cy="32.9" r="2.6" fill="#00BF7D" stroke="#222" stroke-width="0.4" stroke-opacity="0.35"/>
<text x="514.3" y="35.6" font-size="7.3" fill="#1a1a1a">19-59</text>
<rect x="539.4" y="27.9" width="10.0" height="10.0" fill="#00B0F6" fill-opacity="0.3"/>
<line x1="539.8" x2="549.0" y1="32.9" y2="32.9" stroke="#00B0F6" stroke-width="2.8"/>
<circle cx="544.4" cy="32.9" r="2.6" fill="#00B0F6" stroke="#222" stroke-width="0.4" stroke-opacity="0.35"/>
<text x="556.4" y="35.6" font-size="7.3" fill="#1a1a1a">60-74</text>
<rect x="581.3" y="27.9" width="10.0" height="10.0" fill="#E76BF3" fill-opacity="0.3"/>
<line x1="581.6999999999999" x2="590.9" y1="32.9" y2="32.9" stroke="#E76BF3" stroke-width="2.8"/>
<circle cx="586.3" cy="32.9" r="2.6" fill="#E76BF3" stroke="#222" stroke-width="0.4" stroke-opacity="0.35"/>
<text x="598.3" y="35.6" font-size="7.3" fill="#1a1a1a">75+</text>
<line x1="80.00" x2="80.00" y1="361.25" y2="605.0" stroke="#dddddd" stroke-width="0.9"/>
<line x1="130.90" x2="130.90" y1="361.25" y2="605.0" stroke="#dddddd" stroke-width="0.9"/>
<line x1="181.80" x2="181.80" y1="361.25" y2="605.0" stroke="#dddddd" stroke-width="0.9"/>
<line x1="232.70" x2="232.70" y1="361.25" y2="605.0" stroke="#dddddd" stroke-width="0.9"/>
<line x1="283.60" x2="283.60" y1="361.25" y2="605.0" stroke="#dddddd" stroke-width="0.9"/>
<line x1="49.5" x2="314.3" y1="438.00" y2="438.00" stroke="#dddddd" stroke-width="0.9"/>
<line x1="49.5" x2="314.3" y1="543.75" y2="543.75" stroke="#dddddd" stroke-width="0.9"/>
<line x1="80.00" x2="80.00" y1="372.5" y2="540.0" stroke="#faa49e" stroke-width="1.5"/>
<line x1="80.00" x2="80.00" y1="465.75" y2="525.75" stroke="#F8766D" stroke-width="2.3"/>
<circle cx="80.00" cy="507.0" r="2.7" fill="#F8766D"/>
<line x1="130.90" x2="130.90" y1="491.25" y2="595.0" stroke="#c2c356" stroke-width="1.5"/>
<line x1="130.90" x2="130.90" y1="549.25" y2="588.75" stroke="#A3A500" stroke-width="2.3"/>
<circle cx="130.90" cy="576.75" r="2.7" fill="#A3A500"/>
<line x1="181.80" x2="181.80" y1="549.5" y2="578.0" stroke="#56d4a9" stroke-width="1.5"/>
<line x1="181.80" x2="181.80" y1="558.0" y2="571.75" stroke="#00BF7D" stroke-width="2.3"/>
<circle cx="181.80" cy="565.5" r="2.7" fill="#00BF7D"/>
<line x1="232.70" x2="232.70" y1="473.75" y2="541.25" stroke="#56caf9" stroke-width="1.5"/>
<line x1="232.70" x2="232.70" y1="497.0" y2="529.25" stroke="#00B0F6" stroke-width="2.3"/>
<circle cx="232.70" cy="515.25" r="2.7" fill="#00B0F6"/>
<line x1="283.60" x2="283.60" y1="531.25" y2="594.5" stroke="#ef9df7" stroke-width="1.5"/>
<line x1="283.60" x2="283.60" y1="558.0" y2="587.5" stroke="#E76BF3" stroke-width="2.3"/>
<circle cx="283.60" cy="576.25" r="2.7" fill="#E76BF3"/>
<line x1="49.25" x2="49.25" y1="361.25" y2="605.5" stroke="#757575" stroke-width="1"/>
<line x1="48.75" x2="314.3" y1="605.2" y2="605.2" stroke="#757575" stroke-width="1"/>
<line x1="46.9" x2="49.25" y1="438.00" y2="438.00" stroke="#757575" stroke-width="0.9"/>
<text x="44.20" y="441.00" font-size="8.9" fill="#555555" text-anchor="end">100</text>
<line x1="46.9" x2="49.25" y1="543.75" y2="543.75" stroke="#757575" stroke-width="0.9"/>
<text x="44.20" y="546.75" font-size="8.9" fill="#555555" text-anchor="end">10</text>
<line x1="80.00" x2="80.00" y1="605.2" y2="608.0" stroke="#757575" stroke-width="0.9"/>
<text x="80.00" y="617.00" font-size="8.9" fill="#555555" text-anchor="middle">≤5</text>
<line x1="130.90" x2="130.90" y1="605.2" y2="608.0" stroke="#757575" stroke-width="0.9"/>
<text x="130.90" y="617.00" font-size="8.9" fill="#555555" text-anchor="middle">5-18</text>
<line x1="181.80" x2="181.80" y1="605.2" y2="608.0" stroke="#757575" stroke-width="0.9"/>
<text x="181.80" y="617.00" font-size="8.9" fill="#555555" text-anchor="middle">19-59</text>
<line x1="232.70" x2="232.70" y1="605.2" y2="608.0" stroke="#757575" stroke-width="0.9"/>
<text x="232.70" y="617.00" font-size="8.9" fill="#555555" text-anchor="middle">60-74</text>
<line x1="283.60" x2="283.60" y1="605.2" y2="608.0" stroke="#757575" stroke-width="0.9"/>
<text x="283.60" y="617.00" font-size="8.9" fill="#555555" text-anchor="middle">75+</text>
<text x="181.90" y="629.00" font-size="10.4" font-weight="bold" fill="#404040" text-anchor="middle">Age group (years)</text>
<text transform="translate(25.2,483.93) rotate(-90)" font-size="10.4" font-weight="bold" fill="#404040" text-anchor="middle">Peak fold-rise of antibody kinetics</text>
<line x1="396.35" x2="396.35" y1="361.25" y2="605.0" stroke="#dddddd" stroke-width="0.9"/>
<line x1="447.35" x2="447.35" y1="361.25" y2="605.0" stroke="#dddddd" stroke-width="0.9"/>
<line x1="498.35" x2="498.35" y1="361.25" y2="605.0" stroke="#dddddd" stroke-width="0.9"/>
<line x1="549.35" x2="549.35" y1="361.25" y2="605.0" stroke="#dddddd" stroke-width="0.9"/>
<line x1="600.35" x2="600.35" y1="361.25" y2="605.0" stroke="#dddddd" stroke-width="0.9"/>
<line x1="365.75" x2="631.0" y1="401.25" y2="401.25" stroke="#dddddd" stroke-width="0.9"/>
<line x1="365.75" x2="631.0" y1="469.25" y2="469.25" stroke="#dddddd" stroke-width="0.9"/>
<line x1="365.75" x2="631.0" y1="536.75" y2="536.75" stroke="#dddddd" stroke-width="0.9"/>
<line x1="396.35" x2="396.35" y1="446.75" y2="522.5" stroke="#faa49e" stroke-width="1.5"/>
<line x1="396.35" x2="396.35" y1="469.5" y2="506.25" stroke="#F8766D" stroke-width="2.3"/>
<circle cx="396.35" cy="489.25" r="2.7" fill="#F8766D"/>
<line x1="447.35" x2="447.35" y1="424.25" y2="594.25" stroke="#c2c356" stroke-width="1.5"/>
<line x1="447.35" x2="447.35" y1="526.75" y2="584.5" stroke="#A3A500" stroke-width="2.3"/>
<circle cx="447.35" cy="565.75" r="2.7" fill="#A3A500"/>
<line x1="498.35" x2="498.35" y1="521.75" y2="561.75" stroke="#56d4a9" stroke-width="1.5"/>
<line x1="498.35" x2="498.35" y1="531.25" y2="550.75" stroke="#00BF7D" stroke-width="2.3"/>
<circle cx="498.35" cy="541.25" r="2.7" fill="#00BF7D"/>
<line x1="549.35" x2="549.35" y1="372.5" y2="523.0" stroke="#56caf9" stroke-width="1.5"/>
<line x1="549.35" x2="549.35" y1="428.0" y2="494.25" stroke="#00B0F6" stroke-width="2.3"/>
<circle cx="549.35" cy="465.75" r="2.7" fill="#00B0F6"/>
<line x1="600.35" x2="600.35" y1="502.5" y2="594.25" stroke="#ef9df7" stroke-width="1.5"/>
<line x1="600.35" x2="600.35" y1="540.75" y2="583.75" stroke="#E76BF3" stroke-width="2.3"/>
<circle cx="600.35" cy="567.0" r="2.7" fill="#E76BF3"/>
<line x1="365.5" x2="365.5" y1="361.25" y2="605.5" stroke="#757575" stroke-width="1"/>
<line x1="365.0" x2="631.0" y1="605.2" y2="605.2" stroke="#757575" stroke-width="1"/>
<line x1="363.15" x2="365.5" y1="401.25" y2="401.25" stroke="#757575" stroke-width="0.9"/>
<text x="360.45" y="404.25" font-size="8.9" fill="#555555" text-anchor="end">300</text>
<line x1="363.15" x2="365.5" y1="469.25" y2="469.25" stroke="#757575" stroke-width="0.9"/>
<text x="360.45" y="472.25" font-size="8.9" fill="#555555" text-anchor="end">200</text>
<line x1="363.15" x2="365.5" y1="536.75" y2="536.75" stroke="#757575" stroke-width="0.9"/>
<text x="360.45" y="539.75" font-size="8.9" fill="#555555" text-anchor="end">100</text>
<line x1="363.15" x2="365.5" y1="605.00" y2="605.00" stroke="#757575" stroke-width="0.9"/>
<text x="360.45" y="608.00" font-size="8.9" fill="#555555" text-anchor="end">0</text>
<line x1="396.35" x2="396.35" y1="605.2" y2="608.0" stroke="#757575" stroke-width="0.9"/>
<text x="396.35" y="617.00" font-size="8.9" fill="#555555" text-anchor="middle">≤5</text>
<line x1="447.35" x2="447.35" y1="605.2" y2="608.0" stroke="#757575" stroke-width="0.9"/>
<text x="447.35" y="617.00" font-size="8.9" fill="#555555" text-anchor="middle">5-18</text>
<line x1="498.35" x2="498.35" y1="605.2" y2="608.0" stroke="#757575" stroke-width="0.9"/>
<text x="498.35" y="617.00" font-size="8.9" fill="#555555" text-anchor="middle">19-59</text>
<line x1="549.35" x2="549.35" y1="605.2" y2="608.0" stroke="#757575" stroke-width="0.9"/>
<text x="549.35" y="617.00" font-size="8.9" fill="#555555" text-anchor="middle">60-74</text>
<line x1="600.35" x2="600.35" y1="605.2" y2="608.0" stroke="#757575" stroke-width="0.9"/>
<text x="600.35" y="617.00" font-size="8.9" fill="#555555" text-anchor="middle">75+</text>
<text x="498.38" y="629.00" font-size="10.4" font-weight="bold" fill="#404040" text-anchor="middle">Age group (years)</text>
<text transform="translate(341.3,483.93) rotate(-90)" font-size="10.4" font-weight="bold" fill="#404040" text-anchor="middle">Number of days above a four-fold rise</text>
</svg>
</body></html>
